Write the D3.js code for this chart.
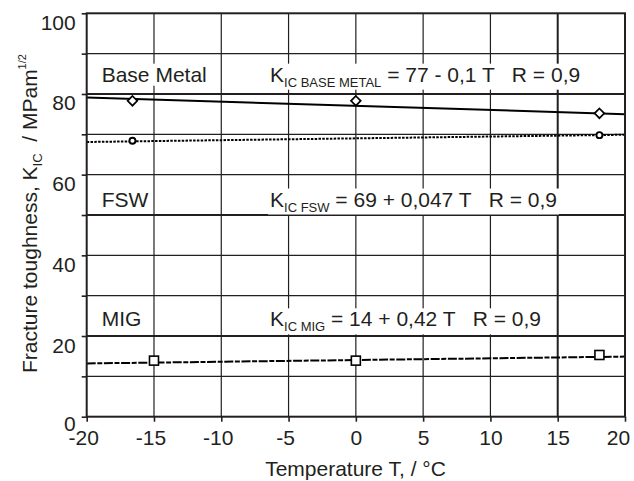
<!DOCTYPE html>
<html>
<head>
<meta charset="utf-8">
<script src="https://cdn.jsdelivr.net/npm/d3@7"></script>
<style>
  body { margin: 0; background: #fff; }
  svg text { font-family: "Liberation Sans", Arial, sans-serif; fill: #231f20; }
</style>
</head>
<body>
<svg id="chart" width="634" height="481"></svg>
<script>
// measured points
const baseT = [-16.6, 0, 18.1]
const baseK = [78.3, 78.3, 75.2]
const fswT = [-16.6, 18.1]
const fswK = [68.4, 69.8]
const migT = [-15, 0, 18.1]
const migK = [13.9, 13.9, 15.3]

// regression line ends
const fitT = [-20, 20]
const baseFit = [79.1, 75.0]
const fswFit = [68.1, 69.9]
const migFit = [13.2, 14.9]

const xTicks = [-20, -15, -10, -5, 0, 5, 10, 15, 20]
const yTicks = [0, 20, 40, 60, 80, 100]
const yGrid = [10, 20, 30, 40, 50, 60, 70, 80, 90]
const thickY = [20, 50, 80]

const ink = '#231f20'
const fs = 21
const svg = d3.select('#chart')

const x = d3.scaleLinear().domain([-20, 20]).range([86.7, 625])
const y = d3.scaleLinear().domain([0, 100]).range([416.7, 13.3])

// grid
const grid = svg.append('g')
grid.selectAll('line.v').data(xTicks.slice(1, -1)).join('line')
    .attr('x1', d => x(d)).attr('x2', d => x(d))
    .attr('y1', y(100)).attr('y2', y(0))
    .attr('stroke', ink)
    .attr('stroke-width', d => d === 15 ? 2 : 1.2)

grid.selectAll('line.h').data(yGrid).join('line')
    .attr('x1', x(-20)).attr('x2', x(20))
    .attr('y1', d => y(d)).attr('y2', d => y(d))
    .attr('stroke', ink)
    .attr('stroke-width', d => thickY.includes(d) ? 2.2 : 1.2)

// annotations with white backing
function label(px, val, main, sub, rest) {
    const g = svg.append('g')
    const t = g.append('text')
        .attr('x', px).attr('y', y(val))
        .attr('font-size', fs)
        .style('white-space', 'pre')
    t.append('tspan').text(main)
    if (sub) {
        t.append('tspan').attr('font-size', 13).attr('dy', 5).text(sub)
        t.append('tspan').attr('dy', -5).text(rest)
    }
    const b = t.node().getBBox()
    g.insert('rect', 'text')
        .attr('x', b.x - 2).attr('y', b.y + 1)
        .attr('width', b.width + 4).attr('height', b.height - 1)
        .attr('fill', '#fff')
}

label(101.7, 83.05, 'Base Metal')
label(270, 83.05, 'K', 'IC BASE METAL', ' = 77 - 0,1 T   R = 0,9')
label(101.7, 52.1, 'FSW')
label(270, 52.1, 'K', 'IC FSW', ' = 69 + 0,047 T   R = 0,9')
label(101.7, 22.4, 'MIG')
label(270, 22.4, 'K', 'IC MIG', ' = 14 + 0,42 T   R = 0,9')

// fit lines
const line = d3.line().x(d => x(d[0])).y(d => y(d[1]))
const fits = [
    { v: baseFit, dash: null },
    { v: fswFit, dash: '2.5,1.3' },
    { v: migFit, dash: '9,1.6,5,1.6' }
]
fits.forEach(f => {
    svg.append('path')
        .attr('d', line(d3.zip(fitT, f.v)))
        .attr('fill', 'none')
        .attr('stroke', '#000')
        .attr('stroke-width', 2)
        .attr('stroke-dasharray', f.dash)
})

// markers
svg.append('g').selectAll('path').data(d3.zip(baseT, baseK)).join('path')
    .attr('d', d3.symbol(d3.symbolDiamond2, 60))
    .attr('transform', d => `translate(${x(d[0])},${y(d[1])})`)
    .attr('fill', '#fff').attr('stroke', '#000').attr('stroke-width', 1.7)

svg.append('g').selectAll('circle').data(d3.zip(fswT, fswK)).join('circle')
    .attr('cx', d => x(d[0])).attr('cy', d => y(d[1])).attr('r', 3)
    .attr('fill', '#fff').attr('stroke', '#000').attr('stroke-width', 1.9)

svg.append('g').selectAll('rect').data(d3.zip(migT, migK)).join('rect')
    .attr('x', d => x(d[0]) - 4.5).attr('y', d => y(d[1]) - 4.5)
    .attr('width', 9).attr('height', 9)
    .attr('fill', '#fff').attr('stroke', '#000').attr('stroke-width', 1.6)

// frame
svg.append('rect')
    .attr('x', x(-20)).attr('y', y(100))
    .attr('width', x(20) - x(-20)).attr('height', y(0) - y(100))
    .attr('fill', 'none').attr('stroke', ink).attr('stroke-width', 2)

// axes
const yAxis = svg.append('g')
    .attr('transform', `translate(${x(-20)},0)`)
    .call(d3.axisLeft(y).tickValues([0, 10, 20, 30, 40, 50, 60, 70, 80, 90, 100])
        .tickSize(5).tickFormat(d => yTicks.includes(d) ? d : ''))
yAxis.select('.domain').remove()
yAxis.selectAll('line').attr('stroke', ink).attr('stroke-width', 1.6)
yAxis.selectAll('text')
    .attr('font-size', fs).attr('x', -11).attr('dy', null)
    .attr('y', d => d === 0 ? 13.5 : 16)
    .attr('fill', ink)

const xAxis = svg.append('g')
    .attr('transform', `translate(0,${y(0)})`)
    .call(d3.axisBottom(x).tickValues(xTicks).tickSize(5).tickFormat(d => d))
xAxis.select('.domain').remove()
xAxis.selectAll('line').attr('stroke', ink).attr('stroke-width', 1.6)
xAxis.selectAll('text')
    .attr('font-size', fs).attr('y', 28).attr('dy', null)
    .attr('fill', ink)
    .attr('dx', d => d < 0 ? -3.5 : d === 20 ? -7 : 0)

// axis titles
svg.append('text')
    .attr('x', 355.5).attr('y', 476)
    .attr('text-anchor', 'middle').attr('font-size', fs)
    .text('Temperature T, / °C')

const yt = svg.append('text')
    .attr('transform', 'translate(37,373) rotate(-90)')
    .attr('font-size', fs)
    .style('white-space', 'pre')
yt.append('tspan').text('Fracture toughness, K')
yt.append('tspan').attr('font-size', 13).attr('dy', 5).text('IC')
yt.append('tspan').attr('dy', -5).text('  / MPam')
yt.append('tspan').attr('font-size', 11).attr('dy', -11).text('1/2')
</script>
</body>
</html>
